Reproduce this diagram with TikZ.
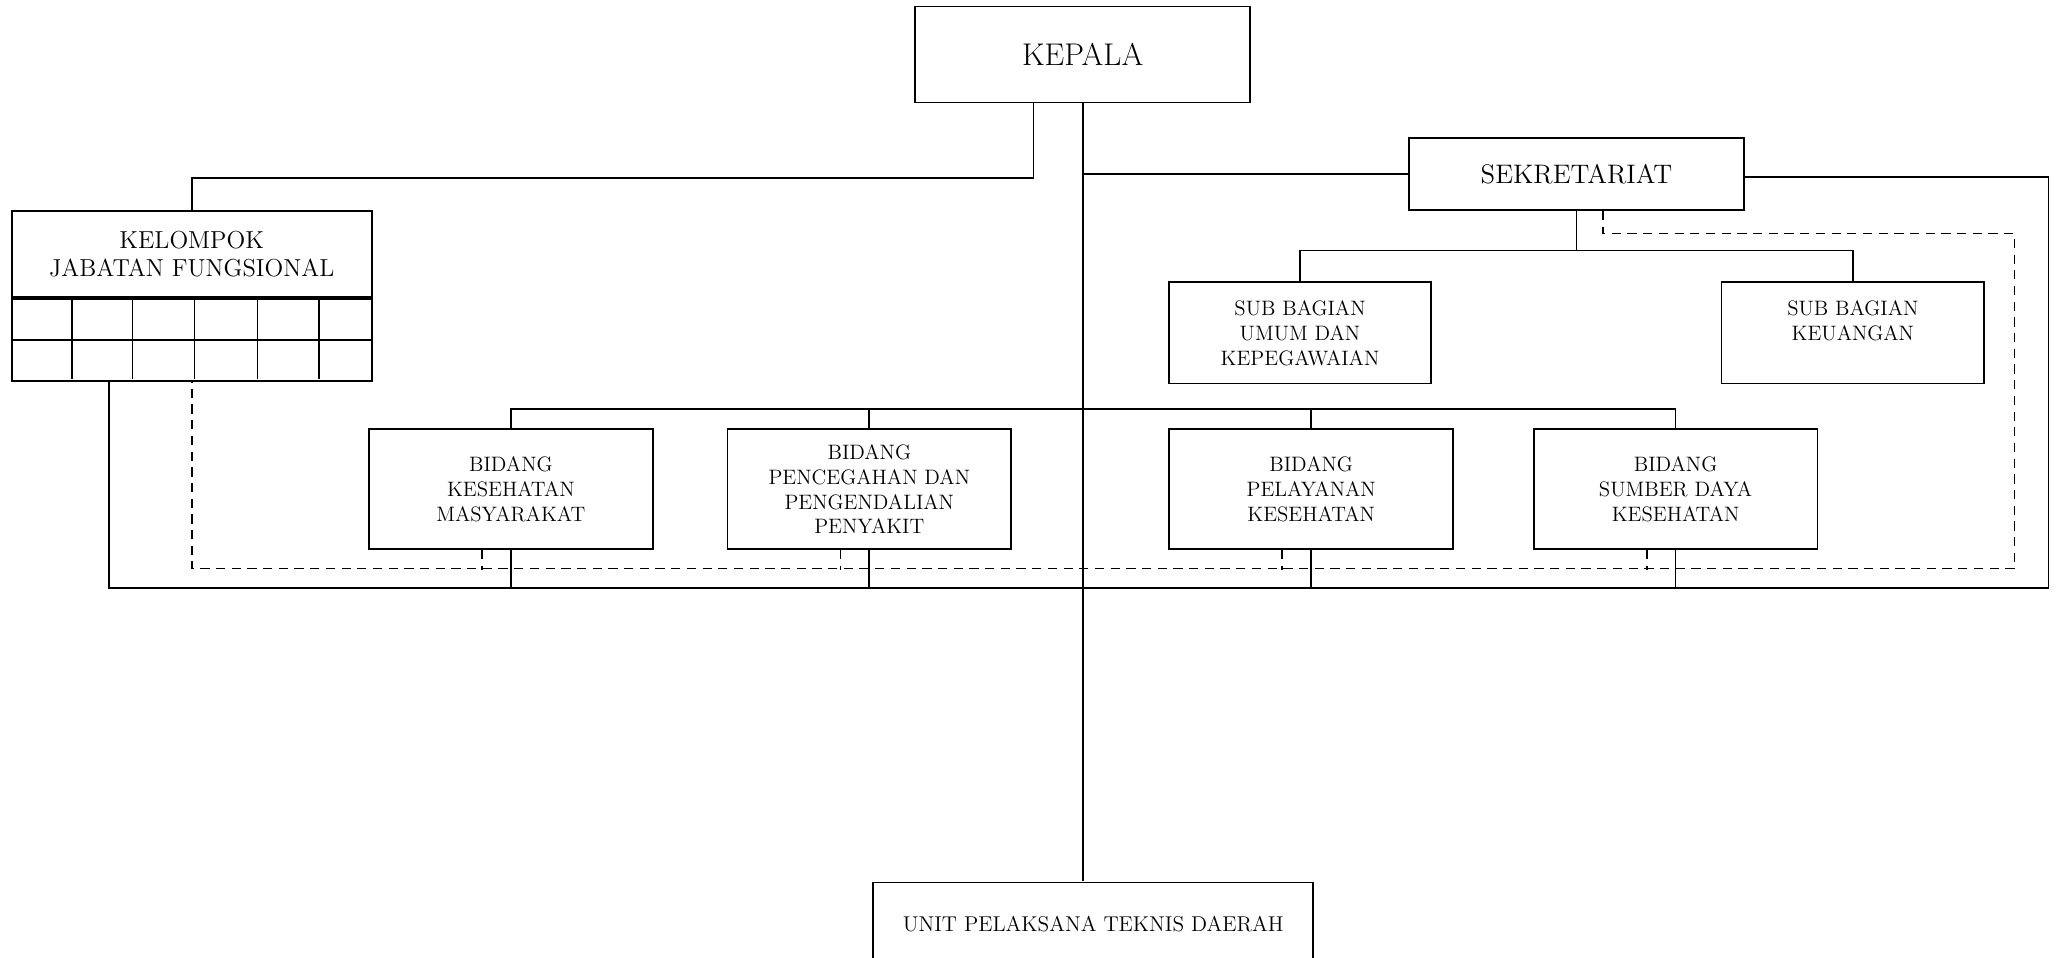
\documentclass[tikz,border=0pt]{standalone}
\usepackage{tikz}

\tikzset{
  kotak/.style={draw, line width=1pt, rectangle, inner sep=0pt, align=center},
  teks/.style={font=\fontsize{11.3}{13.5}\selectfont},
  garis/.style={line width=0.9pt},
  putus/.style={line width=0.9pt, dash pattern=on 5pt off 3.5pt}
}

\begin{document}
\begin{tikzpicture}[x=0.025cm, y=-0.025cm]
                      \useasboundingbox (0,0) rectangle (1568,729);

                      % kepala dan sekretariat
                      \node[kotak, minimum width=6.375cm, minimum height=1.825cm, font=\fontsize{17}{20}\selectfont] (kepala) at (824.5,41.5) {KEPALA};
                      \node[kotak, minimum width=6.375cm, minimum height=1.375cm, font=\fontsize{14.5}{17}\selectfont] (sekretariat) at (1200.5,132.5) {SEKRETARIAT};

                      \node[kotak, teks, minimum width=5cm, minimum height=1.925cm] (umum) at (990,253.5) {SUB BAGIAN\\UMUM DAN\\KEPEGAWAIAN};
                      \node[kotak, teks, minimum width=5cm, minimum height=1.925cm] (keuangan) at (1411,253.5) {SUB BAGIAN\\KEUANGAN\\~};

                      % kelompok jabatan fungsional
                      \node[kotak, minimum width=6.85cm, minimum height=1.625cm, font=\fontsize{13.3}{15.6}\selectfont] (kelompok) at (146,193.5) {KELOMPOK\\JABATAN FUNGSIONAL};
                      \node[kotak, minimum width=6.85cm, minimum height=1.575cm, anchor=north] (jabatan) at (kelompok.south) {};
                      \draw[garis] (jabatan.west) -- (jabatan.east);
                      \foreach \x in {55,101,148,196,243}
                          \draw[garis] (\x,226) -- (\x,289);

                      % bidang
                      \node[kotak, teks, minimum width=5.4cm, minimum height=2.275cm] (kesmas) at (389,372.5) {BIDANG\\KESEHATAN\\MASYARAKAT};
                      \node[kotak, teks, minimum width=5.4cm, minimum height=2.275cm] (ptp) at (662,372.5) {BIDANG\\PENCEGAHAN DAN\\PENGENDALIAN\\PENYAKIT};
                      \node[kotak, teks, minimum width=5.4cm, minimum height=2.275cm] (pelayanan) at (998.5,372.5) {BIDANG\\PELAYANAN\\KESEHATAN};
                      \node[kotak, teks, minimum width=5.4cm, minimum height=2.275cm] (sdk) at (1276,372.5) {BIDANG\\SUMBER DAYA\\KESEHATAN};

                      \node[kotak, font=\fontsize{11.6}{14}\selectfont, minimum width=8.375cm, minimum height=1.6cm] (uptd) at (832.5,704) {UNIT PELAKSANA TEKNIS DAERAH};

                      \coordinate (bawahkiri) at (83,448);
                      \coordinate (bawahkanan) at (1560,448);
                      \coordinate (garisA) at (1534,433);
                      \coordinate (subbus) at ([yshift=-0.75cm]sekretariat.south);

                      % garis komando
                      \draw[garis] (kepala.south) -- (kepala.south |- uptd.north);
                      \draw[garis] ([xshift=-0.9375cm]kepala.south) -- ++(0,57) -| (kelompok.north);
                      \draw[garis] (kepala.south |- sekretariat.west) -- (sekretariat.west);
                      \draw[garis] (sekretariat.south) -- (subbus);
                      \draw[garis] (umum.north) |- (subbus) -| (keuangan.north);
                      \draw[garis] (kesmas.north) -- ++(0,-15) -| (sdk.north);
                      \foreach \n in {ptp,pelayanan}
                          \draw[garis] (\n.north) -- ++(0,-15);
                      \draw[garis] ([yshift=-0.06cm]sekretariat.east) -| (bawahkanan) -- (bawahkiri) -- (bawahkiri |- jabatan.south);
                      \foreach \n in {kesmas,ptp,pelayanan,sdk}
                          \draw[garis] (\n.south) -- ++(0,30);

                      % garis koordinasi
                      \draw[putus] ([xshift=0.5cm]sekretariat.south) -- ++(0,17) -| (garisA) -| (jabatan.south);
                      \foreach \n in {kesmas,ptp,pelayanan,sdk}
                          \draw[putus] ([xshift=-0.55cm]\n.south) -- ++(0,15);
                  \end{tikzpicture}
\end{document}
